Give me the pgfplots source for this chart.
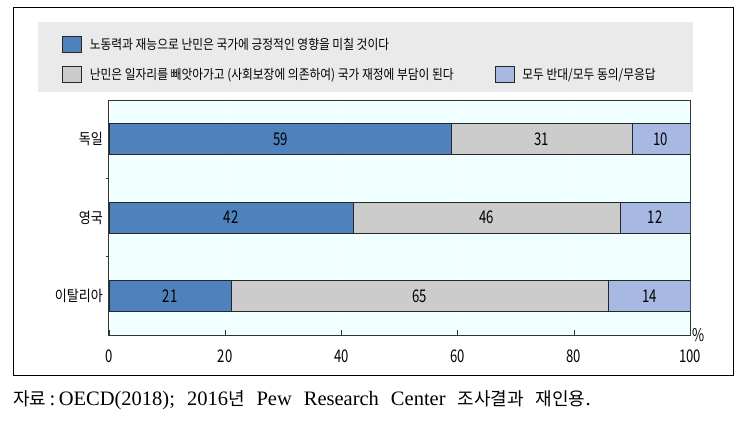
\documentclass[border=0pt]{standalone}
\usepackage{fontspec}
\setmainfont{Liberation Serif}
\newfontfamily\capfont{Liberation Serif}
\newfontfamily\kr[FakeStretch=0.87]{Noto Sans CJK KR}
\newfontfamily\krn[FakeStretch=0.75]{Noto Sans CJK KR}
\newfontfamily\krc{Noto Sans CJK KR}
\usepackage{pgfplots}
\pgfplotsset{compat=1.18}
\definecolor{cblue}{HTML}{4F81BD}
\definecolor{cgray}{HTML}{CCCCCC}
\definecolor{clb}{HTML}{A7B9E3}
\definecolor{bgc}{HTML}{F0FFFF}
\definecolor{leggray}{HTML}{EAEAEA}
\pgfplotsset{sq/.style={legend image code/.code={\draw[##1,draw=black!85,line width=0.6pt] (0pt,-8pt) rectangle (19pt,8pt);}}}
\newcommand\hsp{\hspace*{12pt}}
\newcommand\hg[1]{{\krc\fontsize{18}{20}\selectfont #1}}
\begin{document}
\begin{tikzpicture}
\useasboundingbox (0,0) rectangle (737pt,-426pt);
\draw[line width=1pt] (13pt,-7pt) rectangle (733pt,-375pt);
\fill[leggray] (38pt,-22pt) rectangle (693pt,-92pt);
\begin{axis}[
  at={(109pt,-335pt)}, anchor=south west,
  scale only axis, width=581pt, height=235pt,
  xmin=0, xmax=100, ymin=-0.5, ymax=2.5, y dir=reverse,
  xbar stacked, bar width=31pt,
  axis background/.style={fill=bgc},
  axis line style={black!80, line width=1pt},
  xtick={0,20,...,100}, tick align=inside, major tick length=5pt,
  xtick pos=bottom, ytick pos=left,
  xtick style={black!80, line width=0.6pt},
  xmajorgrids, major grid style={white, line width=0.8pt},
  ytick={0,1,2}, yticklabels={독일,영국,이탈리아},
  ytick style={draw=none},
  extra y ticks={0.5,1.5}, extra y tick labels={},
  extra y tick style={ytick style={draw=black!80, line width=0.6pt}, tick align=outside, major tick length=3pt, grid=none},
  yticklabel style={font=\kr\fontsize{15}{17}\selectfont, inner sep=0pt, xshift=-6pt},
  xticklabel style={font=\krn\fontsize{17.5}{19}\selectfont, inner sep=0pt, yshift=-15pt},
  /pgf/number format/assume math mode=true,
  xlabel={\%}, xlabel style={at={(axis description cs:1,0)}, anchor=south west, inner sep=0pt, xshift=2pt, yshift=-7pt, font=\krn\fontsize{17.5}{19}\selectfont},
  point meta=rawx,
  nodes near coords,
  every node near coord/.append style={anchor=center, font=\krn\fontsize{17.5}{19}\selectfont, black},
  legend columns=2,
  legend style={at={(axis description cs:-0.0809,1.272)}, anchor=north west, draw=none, fill=none, inner sep=0pt,
     font=\kr\fontsize{13.5}{15}\selectfont, row sep=13pt,
     nodes={inner sep=2pt},
     /tikz/every odd column/.append style={column sep=6pt},
     /tikz/every even column/.append style={column sep=39pt}},
  legend cell align=left,
]
\addplot[fill=cblue, draw=black!85, line width=0.6pt, forget plot] coordinates {(59,0) (42,1) (21,2)};
\addplot[fill=cgray, draw=black!85, line width=0.6pt, forget plot] coordinates {(31,0) (46,1) (65,2)};
\addplot[fill=clb, draw=black!85, line width=0.6pt, forget plot] coordinates {(10,0) (12,1) (14,2)};
\addlegendimage{sq, fill=cblue}
\addlegendentry{노동력과 재능으로 난민은 국가에 긍정적인 영향을 미칠 것이다}
\addlegendimage{empty legend}
\addlegendentry{}
\addlegendimage{sq, fill=cgray}
\addlegendentry{난민은 일자리를 빼앗아가고 (사회보장에 의존하여) 국가 재정에 부담이 된다}
\addlegendimage{sq, fill=clb}
\addlegendentry{모두 반대/모두 동의/무응답}
\end{axis}
\node[anchor=west, inner sep=0pt, font=\capfont\fontsize{20.5}{22}\selectfont] at (13pt,-400pt) {\hg{자료}\,:\,OECD(2018);\hsp 2016\hg{년}\hsp Pew\hsp Research\hsp Center\hsp\hg{조사결과}\hsp\hg{재인용}.};
\end{tikzpicture}
\end{document}
